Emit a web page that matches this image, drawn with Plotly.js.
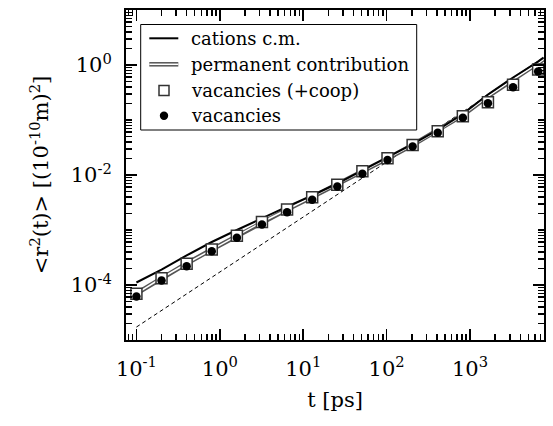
<!DOCTYPE html>
<html>
<head>
<meta charset="utf-8">
<script src="https://cdn.plot.ly/plotly-3.0.1.min.js"></script>
<style>html,body{margin:0;padding:0;background:#fff;}#chart{width:553px;height:426px;}</style>
</head>
<body>
<div id="chart"></div>
<script>
// ---- data ----
const tMarkers = [0.1, 0.2, 0.4, 0.8, 1.6, 3.2, 6.4, 12.8, 25.6, 51.2, 102.4, 204.8, 409.6, 819.2, 1638.4, 3276.8, 6553.6];
const tLines   = [0.1, 0.2, 0.4, 0.8, 1.6, 3.2, 6.4, 12.8, 25.6, 51.2, 102.4, 204.8, 409.6, 819.2, 1638.4, 3276.8, 6553.6, 7600];
const cationsCM = [1.11e-4, 1.91e-4, 3.44e-4, 6.05e-4, 1.0e-3, 1.65e-3, 2.67e-3, 4.24e-3, 7.0e-3, 1.21e-2, 2.08e-2, 3.66e-2, 6.58e-2, 0.1285, 0.291, 0.593, 1.158, 1.37];
const permanent = [7.0e-5, 1.34e-4, 2.46e-4, 4.42e-4, 7.78e-4, 1.40e-3, 2.36e-3, 3.98e-3, 6.72e-3, 1.16e-2, 2.0e-2, 3.51e-2, 6.44e-2, 0.123, 0.2675, 0.545, 1.065, 1.26];
const vacCoop = [6.92e-5, 1.33e-4, 2.43e-4, 4.42e-4, 7.85e-4, 1.4e-3, 2.36e-3, 3.95e-3, 6.64e-3, 1.17e-2, 2.02e-2, 3.51e-2, 6.26e-2, 0.117, 0.211, 0.436, 0.828];
const vacancies = [6.18e-5, 1.21e-4, 2.2e-4, 4.12e-4, 7.21e-4, 1.26e-3, 2.11e-3, 3.54e-3, 6.18e-3, 1.05e-2, 1.87e-2, 3.3e-2, 5.85e-2, 0.1096, 0.202, 0.395, 0.762];
const tDiffusive = [0.1, 7600];
const rDiffusive = [1.72e-5, 1.31];

const legendNames = ["cations c.m.", "permanent contribution", "vacancies (+coop)", "vacancies"];
const xTickVals = [0.1, 1, 10, 100, 1000];
const xTickText = ["10<sup>-1</sup>", "10<sup>0</sup>", "10<sup>1</sup>", "10<sup>2</sup>", "10<sup>3</sup>"];
const yTickVals = [1e-4, 1e-2, 1];
const yTickText = ["10<sup>-4</sup>", "10<sup>-2</sup>", "10<sup>0</sup>"];
const xTitle = "t [ps]";
const yTitle = "&lt;r<sup>2</sup>(t)&gt; [(10<sup>-10</sup>m)<sup>2</sup>]";

// minor tick positions (2..9 x decade)
function minorTicks(e0, e1, lo, hi, skip) {
  const v = [];
  for (let e = e0; e <= e1; e++) {
    for (let m = 1; m <= 9; m++) {
      const val = m * Math.pow(10, e);
      if (val >= lo && val <= hi && !(m === 1 && skip.indexOf(e) >= 0)) v.push(val);
    }
  }
  return v;
}
const xMinor = minorTicks(-2, 3, 0.075, 7700, [-1, 0, 1, 2, 3, -2]);
const yMinor = minorTicks(-5, 1, 1e-5, 10, [-4, -2, 0]);

const FONT = "DejaVu Serif";

const traces = [
  {x: tDiffusive, y: rDiffusive, mode: "lines", line: {color: "#000", width: 1, dash: "4px,3px"}, showlegend: false},
  {x: tLines, y: permanent, mode: "lines", line: {color: "#555", width: 4.5}, showlegend: false},
  {x: tLines, y: permanent, mode: "lines", line: {color: "#fff", width: 1.5}, showlegend: false},
  {x: tLines, y: cationsCM, mode: "lines", line: {color: "#000", width: 2}, showlegend: false},
  {x: tMarkers, y: vacCoop, mode: "markers", marker: {symbol: "square", size: 11, color: "#fff", line: {color: "#333", width: 1.5}}, showlegend: false},
  {x: tMarkers, y: vacancies, mode: "markers", marker: {symbol: "circle", size: 8.5, color: "#000", line: {width: 0}}, showlegend: false}
];

// legend geometry (paper coordinates)
const px = v => (v - 126) / 418;
const py = v => (340 - v) / 330;
const rows = [38.3, 64.3, 90.5, 115.7];
const shapes = [
  {type: "rect", xref: "paper", yref: "paper", x0: px(140.7), x1: px(416.7), y0: py(130), y1: py(24.5), line: {color: "#000", width: 1}, fillcolor: "#fff"},
  {type: "line", xref: "paper", yref: "paper", x0: px(149.3), x1: px(178.3), y0: py(rows[0]), y1: py(rows[0]), line: {color: "#000", width: 2}},
  {type: "line", xref: "paper", yref: "paper", x0: px(149.3), x1: px(178.3), y0: py(rows[1]), y1: py(rows[1]), line: {color: "#555", width: 4.5}},
  {type: "line", xref: "paper", yref: "paper", x0: px(149.3), x1: px(178.3), y0: py(rows[1]), y1: py(rows[1]), line: {color: "#fff", width: 1.5}},
  {type: "rect", xref: "paper", yref: "paper", xsizemode: "pixel", ysizemode: "pixel", xanchor: px(164), yanchor: py(rows[2]), x0: -5, x1: 5, y0: -5, y1: 5, line: {color: "#333", width: 1.5}, fillcolor: "#fff"},
  {type: "circle", xref: "paper", yref: "paper", xsizemode: "pixel", ysizemode: "pixel", xanchor: px(164), yanchor: py(rows[3]), x0: -4.2, x1: 4.2, y0: -4.2, y1: 4.2, line: {color: "#000", width: 0}, fillcolor: "#000"}
];
const annotations = legendNames.map((n, i) => ({
  text: n, xref: "paper", yref: "paper", x: px(189), y: py(rows[i]), xanchor: "left", yanchor: "middle",
  showarrow: false, font: {family: FONT, size: 18, color: "#000"}
}));

const axisCommon = {
  type: "log", showline: true, linewidth: 2, linecolor: "#000", mirror: "allticks",
  ticks: "inside", ticklen: 11, tickwidth: 1.5, tickcolor: "#000", showgrid: false, zeroline: false,
  tickmode: "array", tickfont: {family: FONT, size: 21, color: "#000"}
};

const layout = {
  width: 553, height: 426,
  margin: {l: 126, r: 9, t: 10, b: 86},
  paper_bgcolor: "#fff", plot_bgcolor: "#fff",
  showlegend: false,
  font: {family: FONT, color: "#000"},
  xaxis: Object.assign({}, axisCommon, {
    range: [Math.log10(0.075), Math.log10(7700)],
    tickvals: xTickVals, ticktext: xTickText, ticklabelstandoff: 9,
    minor: {tickmode: "array", tickvals: xMinor, ticks: "inside", ticklen: 6, tickwidth: 1.5, tickcolor: "#000"},
    title: {text: xTitle, font: {family: FONT, size: 21, color: "#000"}, standoff: 12}
  }),
  yaxis: Object.assign({}, axisCommon, {
    range: [-5, 1],
    tickvals: yTickVals, ticktext: yTickText, ticklabelstandoff: 8,
    minor: {tickmode: "array", tickvals: yMinor, ticks: "inside", ticklen: 6, tickwidth: 1.5, tickcolor: "#000"},
    title: {text: yTitle, font: {family: FONT, size: 21, color: "#000"}, standoff: 16}
  }),
  shapes: shapes,
  annotations: annotations
};

Plotly.newPlot("chart", traces, layout, {displayModeBar: false, staticPlot: true});
</script>
</body>
</html>
